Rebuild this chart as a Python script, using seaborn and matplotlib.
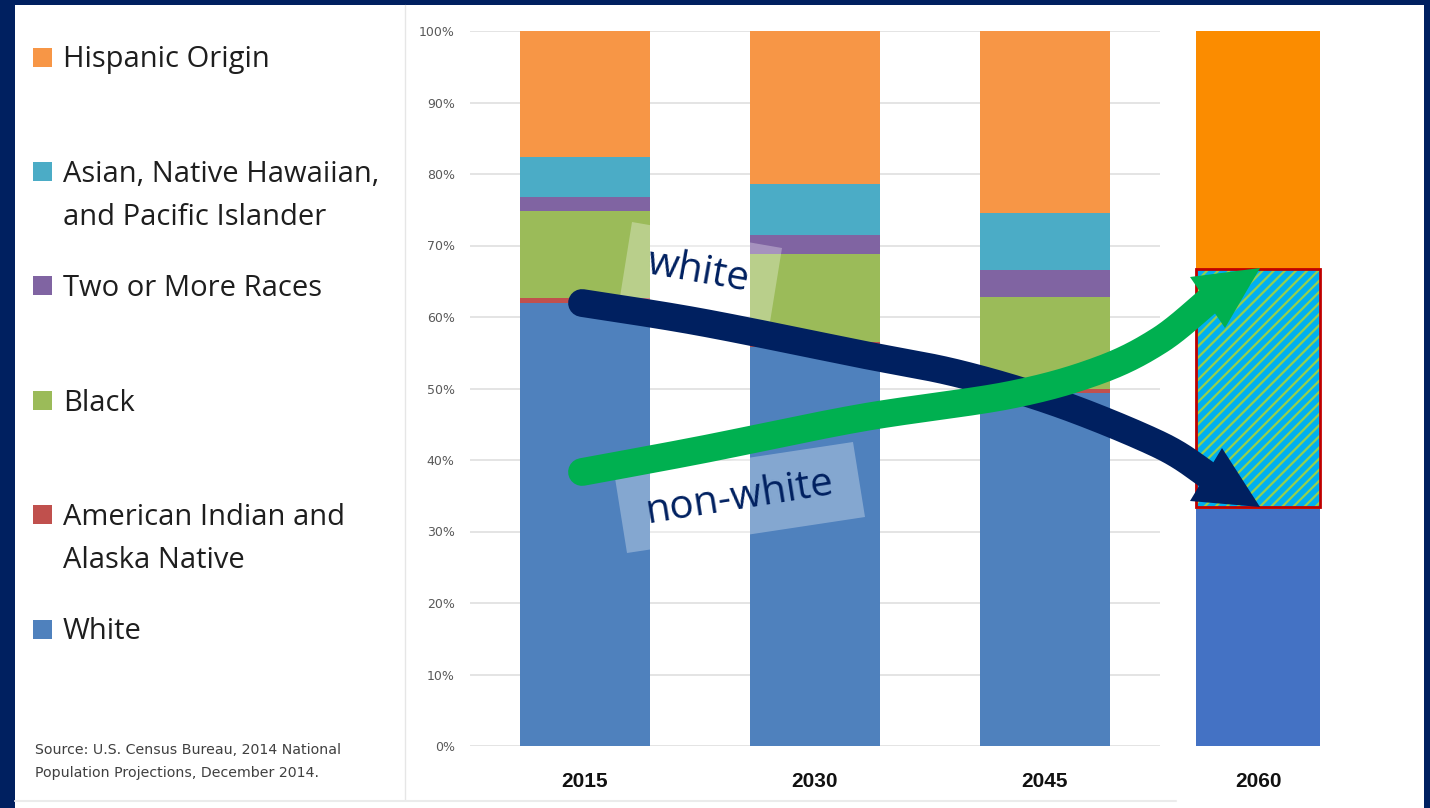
import numpy as np
import matplotlib.pyplot as plt
import seaborn as sns
from matplotlib.patches import Rectangle, Polygon

# share of US population by race / origin (%)
years = ['2015', '2030', '2045']
groups = ['White', 'American Indian and\nAlaska Native', 'Black', 'Two or More Races',
          'Asian, Native Hawaiian,\nand Pacific Islander', 'Hispanic Origin']
colors = ['#4F81BD', '#C0504D', '#9BBB59', '#8064A2', '#4BACC6', '#F79646']
white = [62.0, 55.8, 49.4]
aian = [0.6, 0.7, 0.5]
black = [12.2, 12.3, 12.9]
two_more = [2.0, 2.7, 3.8]
asian = [5.6, 7.05, 8.0]
hispanic = [17.6, 21.45, 25.4]

# the 2060 bar: white / non-white non-hispanic / hispanic
year_2060 = ['2060']
white_2060 = [33.4]
nonwhite_2060 = [33.3]
hispanic_2060 = [33.3]

navy = '#002060'
W, H = 1430, 808

sns.set_style('white')
plt.rcParams['font.family'] = ['DejaVu Sans']
plt.rcParams['hatch.linewidth'] = 1.6


def px(x0, y0, x1, y1):
    # pixel box -> figure fraction rect
    return [x0 / W, 1 - y1 / H, (x1 - x0) / W, (y1 - y0) / H]


def smooth(pts, n=40):
    # catmull-rom through the waypoints of a hand drawn arrow
    pts = np.asarray(pts, float)
    p = np.vstack([pts[0], pts, pts[-1]])
    t = np.linspace(0, 1, n, endpoint=False)[:, None]
    out = []
    for i in range(1, len(p) - 2):
        p0, p1, p2, p3 = p[i - 1], p[i], p[i + 1], p[i + 2]
        out.append(0.5 * (2 * p1 + (-p0 + p2) * t + (2 * p0 - 5 * p1 + 4 * p2 - p3) * t ** 2
                          + (-p0 + 3 * p1 - 3 * p2 + p3) * t ** 3))
    out.append(pts[-1:])
    return np.vstack(out)


fig = plt.figure(figsize=(W / 100, H / 100), dpi=100, facecolor=navy)

# background panel
bg = fig.add_axes([0, 0, 1, 1])
bg.set_xlim(0, W)
bg.set_ylim(H, 0)
bg.axis('off')
bg.set_zorder(-1)
bg.add_patch(Rectangle((15, 5), 1409, 803, facecolor='white', edgecolor='none'))
bg.plot([405, 405], [5, 800], color='#E6E6E6', lw=1)
bg.plot([15, 1176], [800.5, 800.5], color='#EBEBEB', lw=1.5)

# main stacked chart
ax = fig.add_axes(px(470, 31, 1160, 746))
ax.set_facecolor('none')
layers = [white, aian, black, two_more, asian, hispanic]
cum = np.cumsum(layers, axis=0)
for i in reversed(range(len(layers))):
    sns.barplot(x=years, y=cum[i], color=colors[i], saturation=1, width=0.565,
                errorbar=None, linewidth=0, ax=ax)
ax.set_xlim(-0.5, 2.5)
ax.set_ylim(0, 100)
ax.set_yticks(range(0, 101, 10))
ax.set_yticklabels([f'{v}%' for v in range(0, 101, 10)])
ax.yaxis.grid(True, color='#DDDDDD', lw=1.1)
ax.set_axisbelow(True)
ax.tick_params(axis='y', length=0, pad=11, labelsize=9, labelcolor='#595959')
ax.tick_params(axis='x', length=0, pad=19, labelsize=15)
for lab in ax.get_xticklabels():
    lab.set_fontweight('bold')
    lab.set_family(['Liberation Sans', 'DejaVu Sans'])
    lab.set_color('#111111')
ax.set_xlabel('')
ax.set_ylabel('')
sns.despine(ax=ax, left=True, bottom=True)

# 2060 bar
ax2 = fig.add_axes(px(1178, 31, 1338, 746))
ax2.set_facecolor('none')
cum60 = np.cumsum([white_2060, nonwhite_2060, hispanic_2060], axis=0)
sns.barplot(x=year_2060, y=cum60[2], color='#FB8C00', saturation=1, width=0.775,
            errorbar=None, linewidth=0, ax=ax2)
ax2.bar(0, nonwhite_2060, bottom=white_2060, width=0.775, color='#00B0F0', lw=0)
ax2.bar(0, nonwhite_2060, bottom=white_2060, width=0.775, facecolor='none',
        edgecolor='#92D050', hatch='///', lw=0)
ax2.bar(0, nonwhite_2060, bottom=white_2060, width=0.775, facecolor='none',
        edgecolor='#C00000', lw=2)
sns.barplot(x=year_2060, y=[white_2060[0] - 0.2], color='#4472C4', saturation=1, width=0.775,
            errorbar=None, linewidth=0, ax=ax2)
ax2.set_xlim(-0.5, 0.5)
ax2.set_ylim(0, 100)
ax2.set_yticks([])
ax2.tick_params(axis='x', length=0, pad=19, labelsize=15)
for lab in ax2.get_xticklabels():
    lab.set_fontweight('bold')
    lab.set_family(['Liberation Sans', 'DejaVu Sans'])
    lab.set_color('#111111')
ax2.set_xlabel('')
ax2.set_ylabel('')
sns.despine(ax=ax2, left=True, bottom=True)

# overlay: legend, source, arrows, labels
ov = fig.add_axes([0, 0, 1, 1])
ov.set_zorder(5)
ov.set_xlim(0, W)
ov.set_ylim(H, 0)
ov.axis('off')
ov.patch.set_alpha(0)

for k, (name, col) in enumerate(zip(reversed(groups), reversed(colors))):
    y = 57 + k * 114.4
    ov.add_patch(Rectangle((33, y - 9.5), 19, 19, facecolor=col, edgecolor='none'))
    for j, line in enumerate(name.split('\n')):
        ov.text(63, y + 10.4 + j * 43, line, va='baseline', ha='left', fontsize=21,
                family=['Open Sans', 'DejaVu Sans'], color='#1E1E1E')

ov.text(35, 750, 'Source: U.S. Census Bureau, 2014 National', fontsize=10.2,
        va='center', color='#404040')
ov.text(35, 773, 'Population Projections, December 2014.', fontsize=10.2,
        va='center', color='#404040')

# translucent label boxes
ov.add_patch(Polygon([(632, 222), (782, 248), (770, 322), (620, 297)],
                     facecolor='white', alpha=0.3, edgecolor='none', zorder=1))
ov.add_patch(Polygon([(615, 478), (853, 442), (865, 517), (627, 553)],
                     facecolor='white', alpha=0.3, edgecolor='none', zorder=1))
ov.text(698, 272, 'white', rotation=-10, ha='center', va='center', fontsize=29,
        family=['Open Sans', 'DejaVu Sans'], color=navy, zorder=2,
        rotation_mode='anchor')
ov.text(740, 498, 'non-white', rotation=9, ha='center', va='center', fontsize=29,
        family=['Open Sans', 'DejaVu Sans'], color=navy, zorder=2,
        rotation_mode='anchor')

# arrows
navy_path = smooth([(582, 303), (700, 322), (860, 354), (960, 374), (1060, 404),
                    (1160, 445), (1206, 474)])
ov.plot(navy_path[:, 0], navy_path[:, 1], color=navy, lw=20, solid_capstyle='round', zorder=3)
ov.add_patch(Polygon([(1222, 448), (1190, 501), (1260, 507)], facecolor=navy,
                     edgecolor='none', zorder=3))

green_path = smooth([(582, 472), (700, 450), (860, 418), (1010, 395), (1100, 370),
                     (1160, 340), (1207, 302)])
ov.plot(green_path[:, 0], green_path[:, 1], color='#00B050', lw=20, solid_capstyle='round', zorder=4)
ov.add_patch(Polygon([(1190, 277), (1225, 328), (1260, 268)], facecolor='#00B050',
                     edgecolor='none', zorder=4))

fig.savefig('out.png', dpi=100, facecolor=navy)
